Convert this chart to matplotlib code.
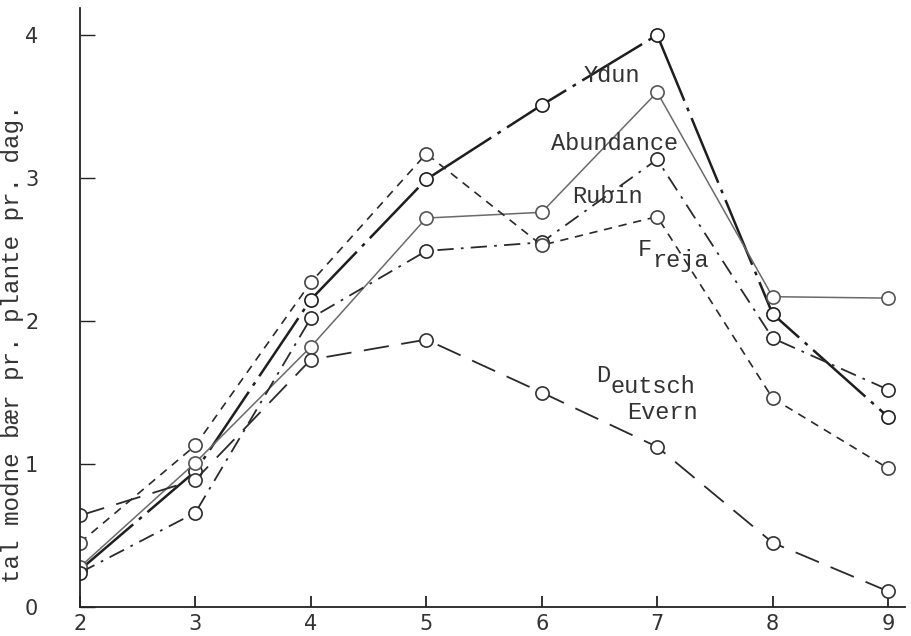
import matplotlib
matplotlib.use("Agg")
import matplotlib.pyplot as plt

# ---- data ----
weeks = [2, 3, 4, 5, 6, 7, 8, 9]
ydun = [0.26, 0.95, 2.15, 2.99, 3.51, 4.00, 2.05, 1.33]
abundance = [0.28, 1.01, 1.82, 2.72, 2.76, 3.60, 2.17, 2.16]
rubin = [0.24, 0.66, 2.02, 2.49, 2.55, 3.13, 1.88, 1.52]
freja = [0.45, 1.13, 2.27, 3.17, 2.53, 2.73, 1.46, 0.97]
deutsch_evern = [0.64, 0.89, 1.73, 1.87, 1.50, 1.12, 0.45, 0.11]
x_ticks = [2, 3, 4, 5, 6, 7, 8, 9]
y_ticks = [0, 1, 2, 3, 4]
y_label = "tal modne bær pr. plante pr. dag."

W, H = 911, 636
fig = plt.figure(figsize=(W / 100, H / 100), dpi=100)
fig.patch.set_facecolor("white")
ax = fig.add_axes([80 / W, (H - 607) / H, (905 - 80) / W, (607 - 8) / H])
ax.set_xlim(2, 2 + (905 - 80) / ((888 - 80) / 7))
ax.set_ylim(0, (607 - 8) / 143)

mono = "Liberation Mono"
ink = "#2a2a2a"
ms = 9.5
mk = dict(marker="o", markersize=ms, markerfacecolor="white", markeredgewidth=1.2)

l, = ax.plot(weeks, ydun, color="#1e1e1e", lw=1.8, markeredgecolor="#1e1e1e", **mk)
l.set_dashes([28, 3, 1.5, 3])
l, = ax.plot(weeks, abundance, color="#6a6a6a", lw=1.1, markeredgecolor="#555555", **mk)
l, = ax.plot(weeks, rubin, color=ink, lw=1.3, markeredgecolor=ink, **mk)
l.set_dashes([9, 4, 1.5, 4])
l, = ax.plot(weeks, freja, color=ink, lw=1.2, markeredgecolor="#444444", **mk)
l.set_dashes([5, 4])
l, = ax.plot(weeks, deutsch_evern, color=ink, lw=1.3, markeredgecolor="#333333", **mk)
l.set_dashes([14, 7])

# spines & ticks
for s in ["top", "right"]:
    ax.spines[s].set_visible(False)
for s in ["left", "bottom"]:
    ax.spines[s].set_color("#222222")
    ax.spines[s].set_linewidth(1.3)
ax.set_xticks(x_ticks)
ax.set_yticks(y_ticks)
ax.tick_params(axis="x", direction="in", length=8, width=1.3, colors="#222222",
               labelsize=15, pad=5)
ax.tick_params(axis="y", direction="in", length=11, width=1.0, colors="#222222",
               labelsize=15, pad=30)
for t in ax.get_xticklabels() + ax.get_yticklabels():
    t.set_fontfamily("DejaVu Sans")
    t.set_color("#333333")

ax.set_ylabel(y_label, fontfamily=mono, fontsize=17.5, color="#333333")
ax.yaxis.set_label_coords(-0.068, 0.44)

# series labels
tk = dict(fontfamily=mono, fontsize=17, color="#333333")
ax.text(6.61, 3.72, "Ydun", ha="center", va="center", **tk)
ax.text(6.63, 3.24, "Abundance", ha="center", va="center", **tk)
ax.text(6.57, 2.87, "Rubin", ha="center", va="center", **tk)
ax.text(6.83, 2.50, "F", ha="left", va="center", **tk)
ax.text(6.96, 2.42, "reja", ha="left", va="center", **tk)
ax.text(6.47, 1.62, "D", ha="left", va="center", **tk)
ax.text(6.60, 1.54, "eutsch", ha="left", va="center", **tk)
ax.text(6.74, 1.36, "Evern", ha="left", va="center", **tk)

fig.savefig("out.png", dpi=100, facecolor="white")
